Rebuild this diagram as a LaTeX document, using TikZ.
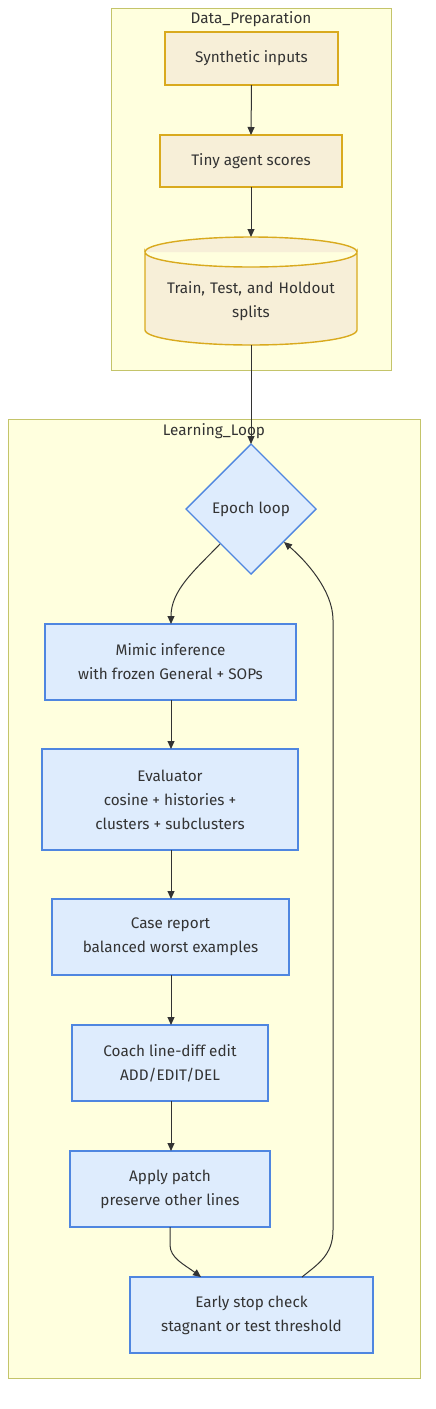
\documentclass[tikz,border=0pt]{standalone}
\usepackage{fontspec}
\setmainfont{Fira Sans}
\usetikzlibrary{shapes.geometric,arrows.meta}
\definecolor{clfill}{HTML}{FFFFDE}
\definecolor{cldraw}{HTML}{C4C46A}
\definecolor{dpfill}{HTML}{F7EFD8}
\definecolor{dpdraw}{HTML}{D9AA1E}
\definecolor{llfill}{HTML}{DEECFD}
\definecolor{lldraw}{HTML}{4F86E0}
\definecolor{txt}{HTML}{333333}
\begin{document}
\begin{tikzpicture}[x=1pt,y=-1pt,
  font=\fontsize{15.3}{24}\selectfont, text=txt,
  cluster/.style={fill=clfill,draw=cldraw,line width=1pt},
  dpbox/.style={fill=dpfill,draw=dpdraw,line width=1.4pt},
  llbox/.style={fill=llfill,draw=lldraw,line width=1.4pt},
  edge/.style={draw=txt,line width=1pt,-{Triangle[length=8pt,width=7pt]}},
  lbl/.style={inner sep=0pt,align=center}]
\useasboundingbox (0,0) rectangle (436,1409);
% clusters
\draw[cluster] (111,8) rectangle (391,370);
\node[lbl] (dptitle) at (251,19) {Data\_Preparation};
\draw[cluster] (8,419) rectangle (420,1378);
\node[lbl] (lltitle) at (214,431) {Learning\_Loop};
% data prep nodes
\draw[dpbox] (165,32) rectangle (338,85);
\node[lbl] (syn) at (251.5,58.5) {Synthetic inputs};
\coordinate (synB) at (251.5,85);
\draw[dpbox] (160,135) rectangle (342,187);
\node[lbl] (tiny) at (251,161) {Tiny agent scores};
\coordinate (tinyT) at (251,135);
\coordinate (tinyB) at (251,187);
% cylinder
\draw[dpbox] (145,252) -- (145,330) arc[start angle=180,end angle=0,x radius=106,y radius=15]
  -- (357,252) arc[start angle=0,end angle=180,x radius=106,y radius=15] -- cycle;
\draw[dpbox] (145,252) arc[start angle=180,end angle=360,x radius=106,y radius=15];
\node[lbl,text width=220pt] (split) at (251,301) {Train, Test, and Holdout\\splits};
\coordinate (cylT) at (251,237);
\coordinate (cylB) at (251,345);
% diamond
\draw[llbox] (251,444) -- (316,509) -- (251,574) -- (186,509) -- cycle;
\node[lbl] (epoch) at (251,509) {Epoch loop};
\coordinate (diaT) at (251,444);
\coordinate (diaL) at (220,544);
\coordinate (diaR) at (284,542);
% learning loop boxes
\draw[llbox] (45,624) rectangle (296,700);
\node[lbl] (mimic) at (170.5,662) {Mimic inference\\with frozen General + SOPs};
\draw[llbox] (42,749) rectangle (298,850);
\node[lbl] (eval) at (170,799.5) {Evaluator\\cosine + histories +\\clusters + subclusters};
\draw[llbox] (52,899) rectangle (289,975);
\node[lbl] (case) at (170.5,937) {Case report\\balanced worst examples};
\draw[llbox] (72,1025) rectangle (268,1101);
\node[lbl] (coach) at (170,1063) {Coach line-diff edit\\ADD/EDIT/DEL};
\draw[llbox] (70,1151) rectangle (270,1227);
\node[lbl] (apply) at (170,1189) {Apply patch\\preserve other lines};
\draw[llbox] (130,1277) rectangle (373,1353);
\node[lbl] (early) at (251.5,1315) {Early stop check\\stagnant or test threshold};
% anchor coordinates
\coordinate (mimT) at (171,624); \coordinate (mimB) at (171,700);
\coordinate (evT) at (171,749); \coordinate (evB) at (171,850);
\coordinate (caT) at (171,899); \coordinate (caB) at (171,975);
\coordinate (coT) at (171,1025); \coordinate (coB) at (171,1101);
\coordinate (apT) at (171,1151); \coordinate (apB) at (170,1227);
\coordinate (esT) at (201,1277); \coordinate (esR) at (302,1277);
% edges
\draw[edge] (synB) -- (tinyT);
\draw[edge] (tinyB) -- (cylT);
\draw[edge] (cylB) -- (diaT);
\draw[edge] (diaL) .. controls (195,570) and (171,590) .. (mimT);
\draw[edge] (mimB) -- (evT);
\draw[edge] (evB) -- (caT);
\draw[edge] (caB) -- (coT);
\draw[edge] (coB) -- (apT);
\draw[edge] (apB) -- (170,1245) .. controls (170,1258) and (185,1265) .. (esT);
\draw[edge] (esR) .. controls (318,1264) and (333,1255) .. (333,1230) -- (333,620)
  .. controls (333,590) and (305,560) .. (diaR);
\end{tikzpicture}
\end{document}
